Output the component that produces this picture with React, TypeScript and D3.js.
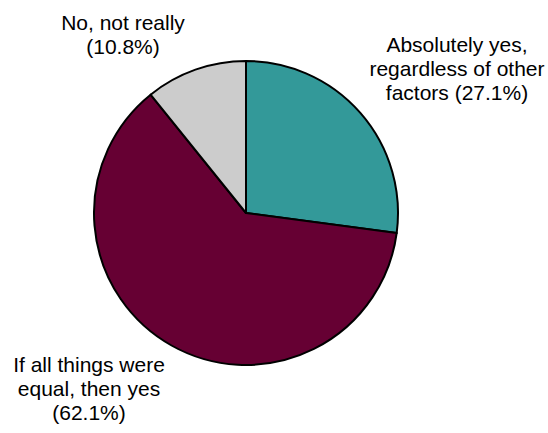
import React from "react";
import * as d3 from "d3";

const categories = [
  "Absolutely yes, regardless of other factors",
  "If all things were equal, then yes",
  "No, not really",
];
const values = [27.1, 62.1, 10.8];
const colors = ["#339999", "#660033", "#CCCCCC"];
const labelLines = [
  ["Absolutely yes,", "regardless of other", "factors (27.1%)"],
  ["If all things were", "equal, then yes", "(62.1%)"],
  ["No, not really", "(10.8%)"],
];
const labelPos = [
  { x: 457, y: 52 },
  { x: 89, y: 372 },
  { x: 123, y: 30 },
];

export default function App() {
  const W = 548, H = 433;
  const cx = 246, cy = 213, r = 152;
  const pie = d3.pie<number>().sort(null).value((d) => d);
  const arcs = pie(values);
  const arc = d3.arc<d3.PieArcDatum<number>>().innerRadius(0).outerRadius(r);
  return (
    <svg width={W} height={H} style={{ position: "absolute", left: 0, top: 0, background: "#fff" }}>
      <g transform={`translate(${cx},${cy})`}>
        {arcs.map((a, i) => (
          <path key={categories[i]} d={arc(a) || ""} fill={colors[i]} stroke="#000" strokeWidth={2} strokeLinejoin="round" />
        ))}
      </g>
      {labelLines.map((lines, i) => (
        <text key={i} x={labelPos[i].x} y={labelPos[i].y} textAnchor="middle" fontFamily="Liberation Sans, Arial, sans-serif" fontSize={21} fill="#000">
          {lines.map((l, j) => (
            <tspan key={j} x={labelPos[i].x} dy={j === 0 ? 0 : 24}>{l}</tspan>
          ))}
        </text>
      ))}
    </svg>
  );
}
